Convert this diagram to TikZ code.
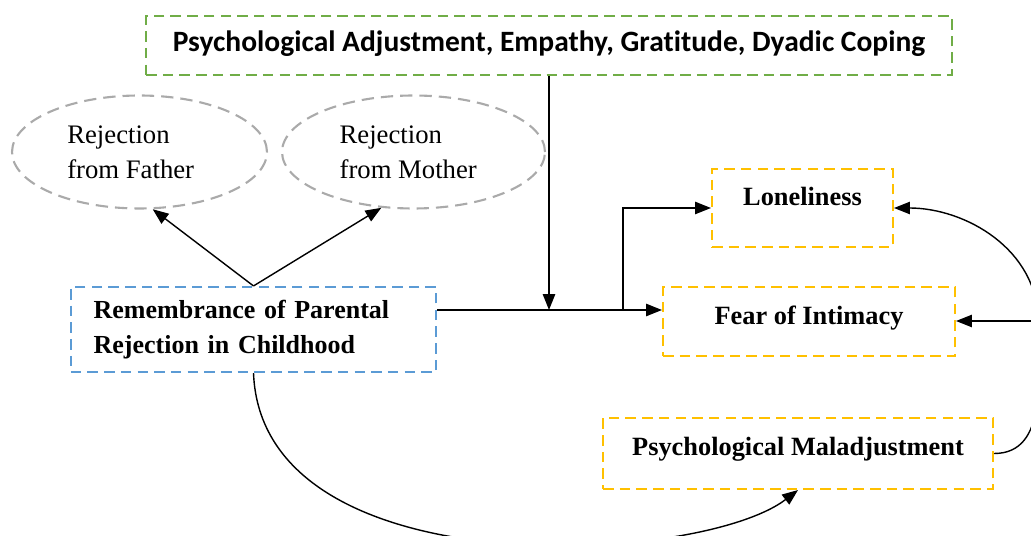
\documentclass[tikz,border=0pt]{standalone}
\usepackage{fontspec}
\setmainfont{Liberation Serif}
\newfontfamily\calibri[Ligatures=NoCommon]{Carlito}
\usepackage{tikz}
\usetikzlibrary{positioning,calc,arrows.meta,shapes.geometric}
\definecolor{modGreen}{RGB}{112, 173, 71}
\definecolor{predBlue}{RGB}{91, 155, 213}
\definecolor{outYellow}{RGB}{255, 192, 0}
\definecolor{parGray}{RGB}{170, 170, 170}
\tikzset{
  dashbox/.style={draw, line width=1.2pt, dash pattern=on 6pt off 3.5pt, inner sep=0pt,
    font=\fontsize{15}{20}\selectfont\bfseries, text height=10pt},
  parent/.style={ellipse, draw=parGray, line width=1.2pt, dash pattern=on 7pt off 4pt,
    minimum height=2.26cm, inner sep=0pt, align=left, font=\fontsize{15.2}{20}\selectfont},
  link/.style={-{Triangle[length=9pt,width=7pt]}, line width=0.8pt}
}

\begin{document}
\begin{tikzpicture}[x=0.02cm, y=-0.02cm]
        \useasboundingbox (0,0) rectangle (1031,536);
        % Moderators on top
        \node[dashbox, draw=modGreen, minimum width=16.12cm, minimum height=1.18cm,
          font=\calibri\fontsize{16.8}{18}\selectfont\bfseries] (mod) at (549,45.5)
          {Psychological Adjustment, Empathy, Gratitude, Dyadic Coping};
        % Parents
        \node[parent, minimum width=5.1cm] (father) at (139.5,152) {Rejection\\from Father\hspace*{10pt}};
        \node[parent, minimum width=5.26cm] (mother) at (413.5,152) {Rejection\\from Mother\hspace*{6pt}};
        % Predictor
        \node[dashbox, draw=predBlue, text width=182pt, inner xsep=13pt, align=left,
          minimum height=1.7cm, text height=, font=\fontsize{14.8}{20}\selectfont\bfseries] (rem) at (253.5,329.5)
          {Remembrance of Parental\\Rejection in Childhood};
        % Outcomes
        \node[dashbox, draw=outYellow, minimum width=3.62cm, minimum height=1.56cm,
          text depth=12.4pt] (lon) at (802.5,208) {Loneliness};
        \node[dashbox, draw=outYellow, minimum width=5.84cm, minimum height=1.38cm,
          text depth=6.8pt] (fear) at (809,321.5) {Fear of Intimacy};
        \node[dashbox, draw=outYellow, minimum width=7.8cm, minimum height=1.42cm,
          text depth=8pt] (mal) at (798,453.5) {Psychological Maladjustment};
        % Helper points on the main line
        \coordinate (mid) at (549,310);
        \coordinate (fork) at (623,310);
        \coordinate (edge) at (1038,321);
        % Arrows
        \draw[link] (rem.north) -- (father.283);
        \draw[link] (rem.north) -- (mother.240);
        \draw[link] (rem.east |- mid) -- (fear.west |- mid);
        \draw[link] (mod.south) -- (mid);
        \draw[link] (fork) |- (lon.west);
        \draw[link] (rem.south) .. controls (262,590) and (700,565) .. (mal.south);
        \draw[link] (mal.east) to[out=0, in=-90] (edge) to[out=90, in=0] (lon.east);
        \draw[link] (edge) -- (fear.east |- edge);
    \end{tikzpicture}
\end{document}
